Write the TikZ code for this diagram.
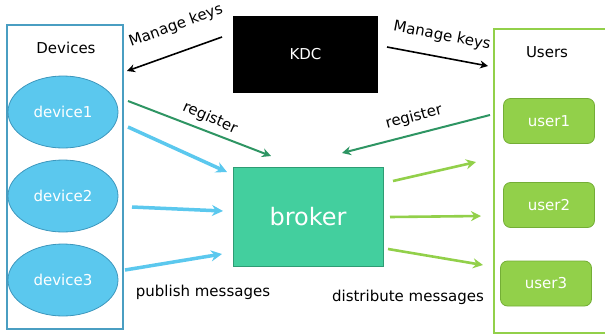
\documentclass[tikz,border=0pt]{standalone}
\usepackage{fontspec}
\setmainfont{DejaVu Sans}
\usetikzlibrary{shapes.geometric,arrows.meta}
\definecolor{devblue}{HTML}{5BC8EE}
\definecolor{devedge}{HTML}{3D97BD}
\definecolor{boxblue}{HTML}{4A9EC2}
\definecolor{brokerfill}{HTML}{43CF9E}
\definecolor{brokeredge}{HTML}{2E9C74}
\definecolor{usergreen}{HTML}{92D04A}
\definecolor{useredge}{HTML}{74AE36}
\definecolor{regreen}{HTML}{2E9563}
\tikzset{
  devnode/.style={ellipse, draw=devedge, fill=devblue, line width=0.8pt,
    minimum width=110pt, minimum height=72pt, text=white, font=\fontsize{15}{18}\selectfont},
  usernode/.style={rounded corners=7pt, draw=useredge, fill=usergreen, line width=0.8pt,
    minimum width=91pt, minimum height=45pt, text=white, font=\fontsize{15}{18}\selectfont},
  lbl/.style={font=\fontsize{15}{18}\selectfont, text=black, inner sep=1pt},
  keyarrow/.style={draw=black, line width=1.6pt, -{Stealth[length=8pt,width=8pt]}},
  regarrow/.style={draw=regreen, line width=2pt, -{Stealth[length=9pt,width=9pt]}},
  pubarrow/.style={draw=devblue, line width=3.5pt, -{Stealth[length=11pt,width=11pt]}},
  distarrow/.style={draw=usergreen, line width=2.6pt, -{Stealth[length=10pt,width=10pt]}},
}
\begin{document}
\begin{tikzpicture}[x=1pt,y=-1pt]
\useasboundingbox (0,0) rectangle (605,335);
% group frames
\draw[boxblue, line width=1.4pt] (7,25) rectangle (123,329);
\draw[usergreen, line width=1.8pt] (494,29) rectangle (612,333);
\node[lbl] (devtitle) at (66,48) {Devices};
\node[lbl] (usrtitle) at (547,52) {Users};
% key distribution center
\node[fill=black, minimum width=145pt, minimum height=77pt, text=white,
  font=\fontsize{15}{18}\selectfont] (kdc) at (305.5,54.5) {KDC};
% broker
\node[draw=brokeredge, fill=brokerfill, line width=0.8pt, minimum width=150pt,
  minimum height=99pt, text=white, font=\fontsize{24}{28}\selectfont] (broker) at (308,216.5) {broker};
% devices
\node[devnode] (d1) at (63,112) {device1};
\node[devnode] (d2) at (63,196) {device2};
\node[devnode] (d3) at (63,280) {device3};
% users
\node[usernode] (u1) at (549,121) {user1};
\node[usernode] (u2) at (549,205) {user2};
\node[usernode] (u3) at (546,283.5) {user3};
% connector end points
\coordinate (kl0) at (222,37);   \coordinate (kl1) at (127,71);
\coordinate (kr0) at (387,47);   \coordinate (kr1) at (488,66);
\coordinate (rl0) at (128,101);  \coordinate (rl1) at (271,156);
\coordinate (rr0) at (490,115);  \coordinate (rr1) at (342,153);
\coordinate (p10) at (128,127);  \coordinate (p11) at (227,172);
\coordinate (p20) at (132,207);  \coordinate (p21) at (223,211);
\coordinate (p30) at (125,270);  \coordinate (p31) at (222,254);
\coordinate (s10) at (393,181);  \coordinate (s11) at (476,162);
\coordinate (s20) at (390,217);  \coordinate (s21) at (481,216);
\coordinate (s30) at (388,249);  \coordinate (s31) at (483,265);
% key management
\draw[keyarrow] (kl0) -- (kl1);
\draw[keyarrow] (kr0) -- (kr1);
\node[lbl, rotate=20] (klab) at (176,26) {Manage keys};
\node[lbl, rotate=-11] (krlab) at (442,36) {Manage keys};
% registration
\draw[regarrow] (rl0) -- (rl1);
\draw[regarrow] (rr0) -- (rr1);
\node[lbl, rotate=-24] (rllab) at (210,118) {register};
\node[lbl, rotate=15] (rrlab) at (414,117) {register};
% publishing
\draw[pubarrow] (p10) -- (p11);
\draw[pubarrow] (p20) -- (p21);
\draw[pubarrow] (p30) -- (p31);
\node[lbl] (publab) at (203,292) {publish messages};
% distribution
\draw[distarrow] (s10) -- (s11);
\draw[distarrow] (s20) -- (s21);
\draw[distarrow] (s30) -- (s31);
\node[lbl] (distlab) at (408,297) {distribute messages};
\end{tikzpicture}
\end{document}
